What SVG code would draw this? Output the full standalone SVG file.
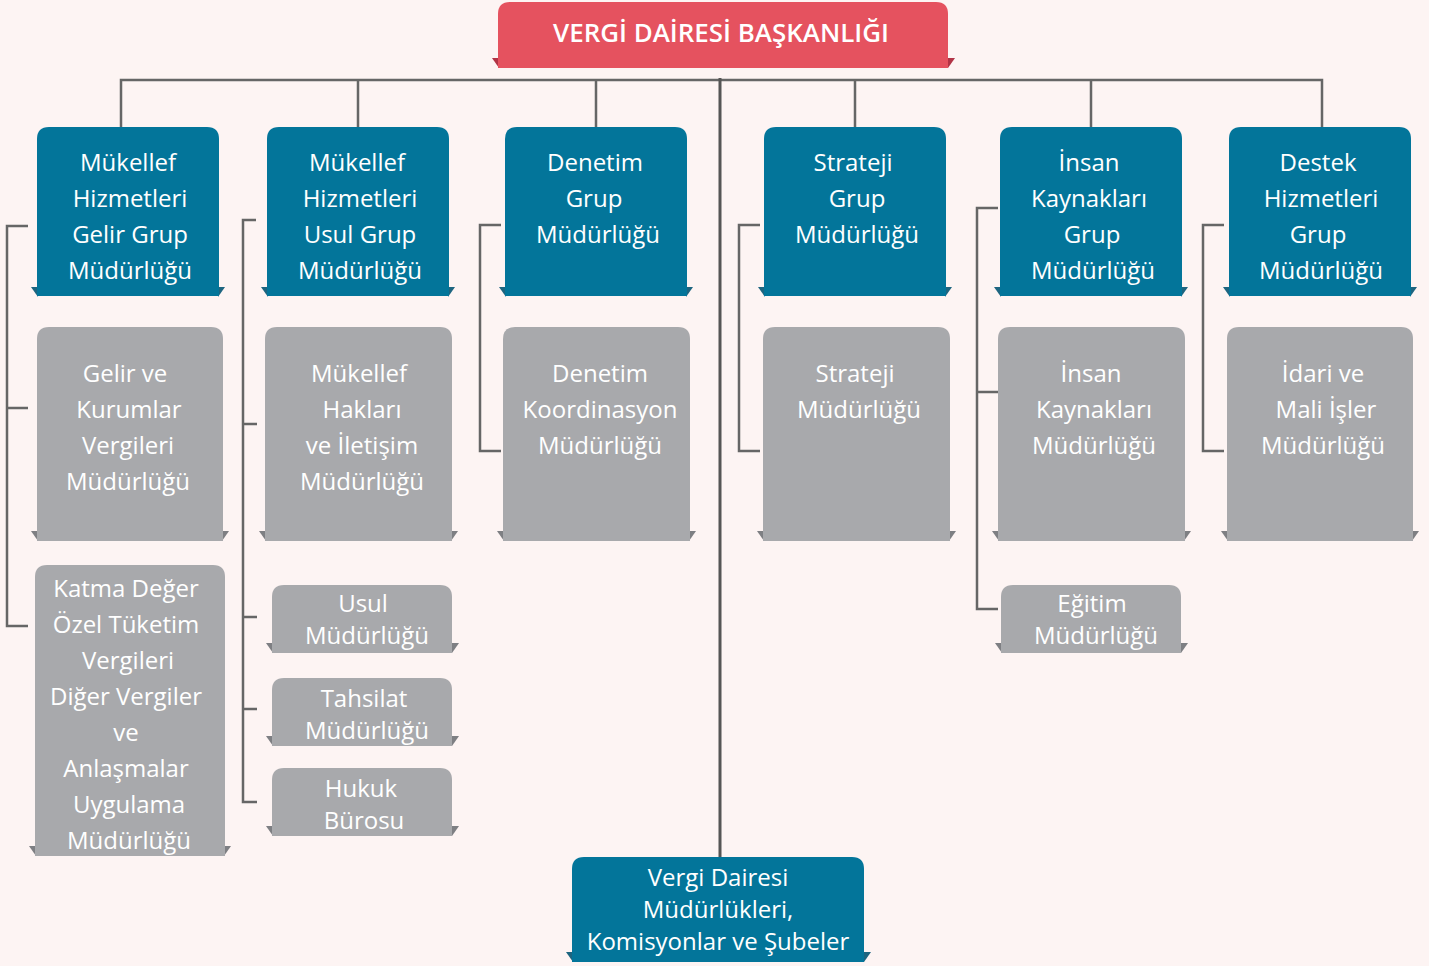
<svg xmlns="http://www.w3.org/2000/svg" width="1429" height="966" viewBox="0 0 1429 966">
<style>
.t{font-family:"Open Sans","Noto Sans","DejaVu Sans",sans-serif;font-size:24px;fill:#ffffff;text-anchor:middle}
.ttl{font-family:"Open Sans","Noto Sans","DejaVu Sans",sans-serif;font-size:25px;font-weight:600;fill:#ffffff;text-anchor:middle}
.blue{fill:#03759a}
.gray{fill:#a8a9ac}
.red{fill:#e5525f}
.btab{fill:#1d6580}
.gtab{fill:#7e7f83}
.rtab{fill:#b23446}
.c{fill:none;stroke:#666;stroke-width:2.5}
.cm{fill:none;stroke:#555;stroke-width:3}
</style>
<rect width="1429" height="966" fill="#fdf4f3"/>
<g id="connectors">
<path class="c" d="M121 127V80H1322V127M358 80V127M596 80V127M855 80V127M1091 80V127"/>
<path class="cm" d="M720 78V857"/>
<path class="c" d="M28 226H7V626H28M7 408H28"/>
<path class="c" d="M256 220H243V802H257M243 424H257M243 617H257M243 709H257"/>
<path class="c" d="M501 225H480V451H501"/>
<path class="c" d="M760 225H739V451H760"/>
<path class="c" d="M998 208H977V609H998M977 392H998"/>
<path class="c" d="M1224 225H1203V451H1224"/>
</g>
<g id="n0">
<polygon class="rtab" points="492,58 499,58 499,68"/>
<polygon class="rtab" points="955,58 948,58 948,68"/>
<path class="red" d="M498 68V14Q498 2 510 2H936Q948 2 948 14V68Z"/>
<text class="ttl" x="721" y="42" textLength="336" lengthAdjust="spacingAndGlyphs">VERGİ DAİRESİ BAŞKANLIĞI</text>
</g>
<g id="n1">
<polygon class="btab" points="31,287 38,287 38,297"/>
<polygon class="btab" points="225,287 218,287 218,297"/>
<path class="blue" d="M37 296V139Q37 127 49 127H207Q219 127 219 139V296Z"/>
<text class="t" x="128" y="171">Mükellef</text>
<text class="t" x="130" y="207">Hizmetleri</text>
<text class="t" x="130" y="243">Gelir Grup</text>
<text class="t" x="130" y="279">Müdürlüğü</text>
</g>
<g id="n2">
<polygon class="btab" points="261,287 268,287 268,297"/>
<polygon class="btab" points="455,287 448,287 448,297"/>
<path class="blue" d="M267 296V139Q267 127 279 127H437Q449 127 449 139V296Z"/>
<text class="t" x="357" y="171">Mükellef</text>
<text class="t" x="360" y="207">Hizmetleri</text>
<text class="t" x="360" y="243">Usul Grup</text>
<text class="t" x="360" y="279">Müdürlüğü</text>
</g>
<g id="n3">
<polygon class="btab" points="499,287 506,287 506,297"/>
<polygon class="btab" points="693,287 686,287 686,297"/>
<path class="blue" d="M505 296V139Q505 127 517 127H675Q687 127 687 139V296Z"/>
<text class="t" x="595" y="171">Denetim</text>
<text class="t" x="594" y="207">Grup</text>
<text class="t" x="598" y="243">Müdürlüğü</text>
</g>
<g id="n4">
<polygon class="btab" points="758,287 765,287 765,297"/>
<polygon class="btab" points="952,287 945,287 945,297"/>
<path class="blue" d="M764 296V139Q764 127 776 127H934Q946 127 946 139V296Z"/>
<text class="t" x="853" y="171">Strateji</text>
<text class="t" x="857" y="207">Grup</text>
<text class="t" x="857" y="243">Müdürlüğü</text>
</g>
<g id="n5">
<polygon class="btab" points="994,287 1001,287 1001,297"/>
<polygon class="btab" points="1188,287 1181,287 1181,297"/>
<path class="blue" d="M1000 296V139Q1000 127 1012 127H1170Q1182 127 1182 139V296Z"/>
<text class="t" x="1089" y="171">İnsan</text>
<text class="t" x="1089" y="207">Kaynakları</text>
<text class="t" x="1092" y="243">Grup</text>
<text class="t" x="1093" y="279">Müdürlüğü</text>
</g>
<g id="n6">
<polygon class="btab" points="1223,287 1230,287 1230,297"/>
<polygon class="btab" points="1417,287 1410,287 1410,297"/>
<path class="blue" d="M1229 296V139Q1229 127 1241 127H1399Q1411 127 1411 139V296Z"/>
<text class="t" x="1318" y="171">Destek</text>
<text class="t" x="1321" y="207">Hizmetleri</text>
<text class="t" x="1318" y="243">Grup</text>
<text class="t" x="1321" y="279">Müdürlüğü</text>
</g>
<g id="n7">
<polygon class="gtab" points="31,531 38,531 38,541"/>
<polygon class="gtab" points="229,531 222,531 222,541"/>
<path class="gray" d="M37 541V339Q37 327 49 327H211Q223 327 223 339V541Z"/>
<text class="t" x="125" y="382">Gelir ve</text>
<text class="t" x="129" y="418">Kurumlar</text>
<text class="t" x="128" y="454">Vergileri</text>
<text class="t" x="128" y="490">Müdürlüğü</text>
</g>
<g id="n8">
<polygon class="gtab" points="259,531 266,531 266,541"/>
<polygon class="gtab" points="458,531 451,531 451,541"/>
<path class="gray" d="M265 541V339Q265 327 277 327H440Q452 327 452 339V541Z"/>
<text class="t" x="359" y="382">Mükellef</text>
<text class="t" x="362" y="418">Hakları</text>
<text class="t" x="362" y="454">ve İletişim</text>
<text class="t" x="362" y="490">Müdürlüğü</text>
</g>
<g id="n9">
<polygon class="gtab" points="497,531 504,531 504,541"/>
<polygon class="gtab" points="696,531 689,531 689,541"/>
<path class="gray" d="M503 541V339Q503 327 515 327H678Q690 327 690 339V541Z"/>
<text class="t" x="600" y="382">Denetim</text>
<text class="t" x="600" y="418">Koordinasyon</text>
<text class="t" x="600" y="454">Müdürlüğü</text>
</g>
<g id="n10">
<polygon class="gtab" points="757,531 764,531 764,541"/>
<polygon class="gtab" points="956,531 949,531 949,541"/>
<path class="gray" d="M763 541V339Q763 327 775 327H938Q950 327 950 339V541Z"/>
<text class="t" x="855" y="382">Strateji</text>
<text class="t" x="859" y="418">Müdürlüğü</text>
</g>
<g id="n11">
<polygon class="gtab" points="992,531 999,531 999,541"/>
<polygon class="gtab" points="1191,531 1184,531 1184,541"/>
<path class="gray" d="M998 541V339Q998 327 1010 327H1173Q1185 327 1185 339V541Z"/>
<text class="t" x="1091" y="382">İnsan</text>
<text class="t" x="1094" y="418">Kaynakları</text>
<text class="t" x="1094" y="454">Müdürlüğü</text>
</g>
<g id="n12">
<polygon class="gtab" points="1221,531 1228,531 1228,541"/>
<polygon class="gtab" points="1419,531 1412,531 1412,541"/>
<path class="gray" d="M1227 541V339Q1227 327 1239 327H1401Q1413 327 1413 339V541Z"/>
<text class="t" x="1323" y="382">İdari ve</text>
<text class="t" x="1326" y="418">Mali İşler</text>
<text class="t" x="1323" y="454">Müdürlüğü</text>
</g>
<g id="n13">
<polygon class="gtab" points="29,846 36,846 36,856"/>
<polygon class="gtab" points="231,846 224,846 224,856"/>
<path class="gray" d="M35 856V577Q35 565 47 565H213Q225 565 225 577V856Z"/>
<text class="t" x="126" y="597">Katma Değer</text>
<text class="t" x="126" y="633">Özel Tüketim</text>
<text class="t" x="128" y="669">Vergileri</text>
<text class="t" x="126" y="705">Diğer Vergiler</text>
<text class="t" x="126" y="741">ve</text>
<text class="t" x="126" y="777">Anlaşmalar</text>
<text class="t" x="129" y="813">Uygulama</text>
<text class="t" x="129" y="849">Müdürlüğü</text>
</g>
<g id="n14">
<polygon class="gtab" points="266,643 273,643 273,653"/>
<polygon class="gtab" points="459,643 452,643 452,653"/>
<path class="gray" d="M272 653V597Q272 585 284 585H440Q452 585 452 597V653Z"/>
<text class="t" x="363" y="612">Usul</text>
<text class="t" x="367" y="644">Müdürlüğü</text>
</g>
<g id="n15">
<polygon class="gtab" points="266,736 273,736 273,746"/>
<polygon class="gtab" points="459,736 452,736 452,746"/>
<path class="gray" d="M272 746V690Q272 678 284 678H440Q452 678 452 690V746Z"/>
<text class="t" x="364" y="707">Tahsilat</text>
<text class="t" x="367" y="739">Müdürlüğü</text>
</g>
<g id="n16">
<polygon class="gtab" points="266,826 273,826 273,836"/>
<polygon class="gtab" points="459,826 452,826 452,836"/>
<path class="gray" d="M272 836V780Q272 768 284 768H440Q452 768 452 780V836Z"/>
<text class="t" x="361" y="797">Hukuk</text>
<text class="t" x="364" y="829">Bürosu</text>
</g>
<g id="n17">
<polygon class="gtab" points="995,643 1002,643 1002,653"/>
<polygon class="gtab" points="1188,643 1181,643 1181,653"/>
<path class="gray" d="M1001 653V597Q1001 585 1013 585H1169Q1181 585 1181 597V653Z"/>
<text class="t" x="1092" y="612">Eğitim</text>
<text class="t" x="1096" y="644">Müdürlüğü</text>
</g>
<g id="n18">
<polygon class="btab" points="566,952 573,952 573,962"/>
<polygon class="btab" points="871,952 864,952 864,962"/>
<path class="blue" d="M572 962V869Q572 857 584 857H852Q864 857 864 869V962Z"/>
<text class="t" x="718" y="886">Vergi Dairesi</text>
<text class="t" x="718" y="918">Müdürlükleri,</text>
<text class="t" x="718" y="950">Komisyonlar ve Şubeler</text>
</g>
</svg>
